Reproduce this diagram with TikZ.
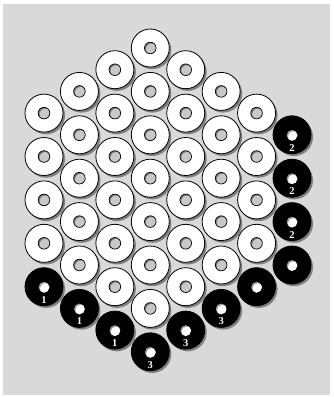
\documentclass[tikz,border=0pt]{standalone}
\usepackage{fontspec}
\setmainfont{Liberation Serif}
\usetikzlibrary{calc}
\definecolor{bg}{HTML}{D9D9D9}
\definecolor{shadowc}{HTML}{7E7E7E}
\definecolor{holec}{HTML}{C8C8C8}
\definecolor{holedark}{HTML}{7A7A7A}
\definecolor{bholedark}{HTML}{9A9A9A}
\tikzset{
  disc/.style={circle, minimum size=38pt, inner sep=0pt, draw=black, line width=0.8pt},
  whitedisc/.style={disc, fill=white},
  blackdisc/.style={disc, fill=black},
  shadowdisc/.style={circle, minimum size=38pt, inner sep=0pt, fill=shadowc},
  numlabel/.style={text=white, font=\bfseries\fontsize{10.5}{10.5}\selectfont, inner sep=0pt}
}
\begin{document}
\begin{tikzpicture}[x=1pt,y=-1pt]
\useasboundingbox (0,0) rectangle (333,397);
\fill[bg] (3,4) rectangle (330,395);
% shadows of white discs
\foreach \c in {0,...,6}{
  \pgfmathtruncatemacro\d{abs(\c-3)}
  \pgfmathtruncatemacro\n{6-\d}
  \foreach \i in {0,...,\n}{
    \pgfmathtruncatemacro\k{\d+2*\i}
    \node[shadowdisc] (sw-\c-\k) at ({44+35.43*\c+2},{48+21.7*\k+2.2}) {};
  }
}
% shadows of black discs
\foreach \c/\k/\t in {0/11/1,1/12/1,2/13/1,3/14/3,4/13/3,5/12/3,6/11/,7/10/,7/4/2,7/6/2,7/8/2}{
  \node[shadowdisc] (sb-\c-\k) at ({44+35.43*\c+2},{48+21.7*\k+2.2}) {};
}
% white discs
\foreach \c in {0,...,6}{
  \pgfmathtruncatemacro\d{abs(\c-3)}
  \pgfmathtruncatemacro\n{6-\d}
  \foreach \i in {0,...,\n}{
    \pgfmathtruncatemacro\k{\d+2*\i}
    \node[whitedisc] (w-\c-\k) at ({44+35.43*\c},{48+21.7*\k}) {};
    \begin{scope}
      \clip (w-\c-\k.center) circle (5.8);
      \fill[holedark] (w-\c-\k.center) circle (5.8);
      \fill[holec] ($(w-\c-\k.center)+(1.4,1.4)$) circle (5.8);
    \end{scope}
    \draw[line width=0.7pt] (w-\c-\k.center) circle (5.8);
  }
}
% black discs
\foreach \c/\k/\t in {0/11/1,1/12/1,2/13/1,3/14/3,4/13/3,5/12/3,6/11/,7/10/,7/4/2,7/6/2,7/8/2}{
  \node[blackdisc] (b-\c-\k) at ({44+35.43*\c},{48+21.7*\k}) {};
  \begin{scope}
    \clip ($(b-\c-\k.center)+(0,0.5)$) circle (5.4);
    \fill[bholedark] ($(b-\c-\k.center)+(0,0.5)$) circle (5.4);
    \fill[white] ($(b-\c-\k.center)+(1.3,1.8)$) circle (5.4);
  \end{scope}
  \node[numlabel] (l-\c-\k) at ($(b-\c-\k.center)+(0,13)$) {\t};
}
\end{tikzpicture}
\end{document}
